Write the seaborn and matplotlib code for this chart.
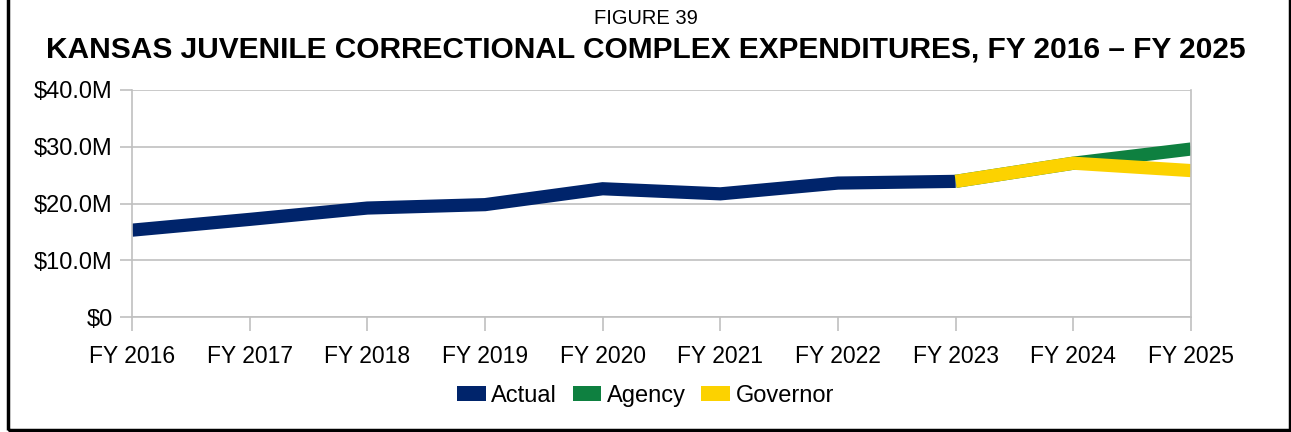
import matplotlib
matplotlib.use("Agg")
import matplotlib.pyplot as plt
from matplotlib.patches import Patch, Rectangle
import seaborn as sns
import pandas as pd

# ---- data ----
years = [2016, 2017, 2018, 2019, 2020, 2021, 2022, 2023, 2024, 2025]
tick_labels = [f"FY {y}" for y in years]

actual_years = [2016, 2017, 2018, 2019, 2020, 2021, 2022, 2023]
actual_vals = [15.3, 17.2, 19.2, 19.8, 22.6, 21.7, 23.6, 23.9]

agency_years = [2023, 2024, 2025]
agency_vals = [23.9, 27.1, 29.6]

governor_years = [2023, 2024, 2025]
governor_vals = [23.9, 27.1, 25.8]

series_names = ["Actual", "Agency", "Governor"]
colors = {"Actual": "#00246B", "Agency": "#0E8040", "Governor": "#FCD200"}

y_ticks = [0, 10, 20, 30, 40]
y_tick_labels = ["$0", "$10.0M", "$20.0M", "$30.0M", "$40.0M"]

df = pd.concat([
    pd.DataFrame({"year": actual_years, "value": actual_vals, "series": "Actual"}),
    pd.DataFrame({"year": agency_years, "value": agency_vals, "series": "Agency"}),
    pd.DataFrame({"year": governor_years, "value": governor_vals, "series": "Governor"}),
], ignore_index=True)

# ---- style ----
sns.set_style("white")
plt.rcParams["font.family"] = ["Liberation Sans", "DejaVu Sans"]
plt.rcParams["text.color"] = "black"
plt.rcParams["axes.labelcolor"] = "black"

W, H = 1291, 432
fig = plt.figure(figsize=(W / 100, H / 100), dpi=100)
ax = fig.add_axes([132 / W, 1 - 317 / H, (1191 - 132) / W, (317 - 90) / H])

sns.lineplot(data=df, x="year", y="value", hue="series", hue_order=series_names,
             palette=colors, linewidth=9.5, sort=False, legend=False, ax=ax,
             estimator=None)
for ln in ax.get_lines():
    ln.set_solid_capstyle("butt")
    ln.set_solid_joinstyle("miter")

ax.set_xlim(2016, 2025)
ax.set_ylim(0, 40)
ax.set_xticks(years)
ax.set_xticklabels(tick_labels, fontsize=16.5)
ax.set_yticks(y_ticks)
ax.set_yticklabels(y_tick_labels, fontsize=17)
ax.set_xlabel("")
ax.set_ylabel("")
ax.yaxis.grid(True, color="#c0c0c0", linewidth=1.2)
ax.set_axisbelow(True)
for s in ["left", "right", "bottom"]:
    ax.spines[s].set_visible(True)
    ax.spines[s].set_color("#c0c0c0")
    ax.spines[s].set_linewidth(1.2)
ax.spines["top"].set_visible(False)
ax.tick_params(axis="y", which="both", left=True, direction="out", length=9, width=1.2,
               color="#c0c0c0", labelcolor="black", pad=5)
ax.tick_params(axis="x", which="both", bottom=True, direction="out", length=10, width=1.2,
               color="#c0c0c0", labelcolor="black", pad=10)

# titles
fig.text(0.5, 1 - 18 / H, "FIGURE 39", ha="center", va="center", fontsize=14.5, color="black")
fig.text(0.5, 1 - 50 / H, "KANSAS JUVENILE CORRECTIONAL COMPLEX EXPENDITURES, FY 2016 \u2013 FY 2025",
         ha="center", va="center", fontsize=21.5, fontweight="bold", color="black")

# legend
handles = [Patch(facecolor=colors[n], edgecolor="none", label=n) for n in series_names]
leg = fig.legend(handles=handles, loc="center", bbox_to_anchor=(0.5, 1 - 396 / H), ncol=3,
                 frameon=False, fontsize=17, handlelength=1.2, handleheight=0.6,
                 handletextpad=0.25, columnspacing=0.65)
for t in leg.get_texts():
    t.set_color("black")

# outer border (top cut off)
fig.patches.append(Rectangle((7.5 / W, 1 - 430 / H), (1289.5 - 7.5) / W, 2.0,
                             transform=fig.transFigure, fill=False,
                             edgecolor="black", linewidth=2.5))

fig.savefig("out.png", dpi=100)
